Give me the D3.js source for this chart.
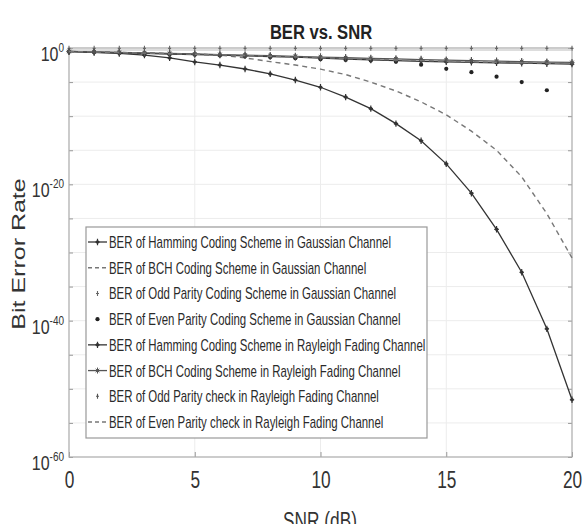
<!DOCTYPE html>
<html>
<head>
<meta charset="utf-8">
<script src="https://cdn.jsdelivr.net/npm/d3@7"></script>
<style>
  html, body { margin: 0; padding: 0; background: #fff; }
  svg { display: block; font-family: "Liberation Sans", Arial, sans-serif; }
</style>
</head>
<body>
<svg id="chart" width="583" height="524"></svg>
<script>
// ---------- data (BER given as log10 exponents) ----------
const snrValues = [0,1,2,3,4,5,6,7,8,9,10,11,12,13,14,15,16,17,18,19,20];

const hammingGaussianExp = [-0.5,-0.62,-0.8,-1.05,-1.45,-2.05,-2.5,-3.08,-3.8,-4.7,-5.76,-7.2,-8.9,-11.1,-13.6,-17.0,-21.3,-26.6,-32.9,-41.2,-51.6];
const bchGaussianExp = [-0.55,-0.6,-0.65,-0.72,-0.8,-0.9,-1.05,-1.45,-2.0,-2.5,-3.1,-3.9,-5.0,-6.3,-7.9,-9.8,-12.2,-15.0,-18.9,-24.3,-30.8];
const oddGaussianExp = [-0.05,-0.05,-0.05,-0.05,-0.05,-0.05,-0.05,-0.05,-0.05,-0.05,-0.05,-0.05,-0.05,-0.05,-0.05,-0.05,-0.05,-0.05,-0.05,-0.05,-0.05];
const evenGaussianExp = [-0.55,-0.6,-0.68,-0.78,-0.9,-1.0,-1.1,-1.2,-1.35,-1.5,-1.65,-1.75,-1.85,-2.0,-2.45,-3.05,-3.55,-4.2,-5.0,-6.2,null];
const hammingRayleighExp = [-0.54,-0.62,-0.7,-0.8,-0.88,-0.95,-1.05,-1.15,-1.25,-1.35,-1.5,-1.62,-1.75,-1.85,-1.95,-2.03,-2.1,-2.17,-2.23,-2.3,-2.36];
const bchRayleighExp = [-0.5,-0.57,-0.64,-0.72,-0.8,-0.88,-0.96,-1.05,-1.14,-1.23,-1.33,-1.43,-1.52,-1.61,-1.7,-1.78,-1.86,-1.93,-2.0,-2.06,-2.12];
const oddRayleighExp = [-0.4,-0.45,-0.5,-0.56,-0.62,-0.7,-0.78,-0.86,-0.95,-1.05,-1.15,-1.25,-1.35,-1.43,-1.51,-1.6,-1.68,-1.76,-1.84,-1.92,-2.0];
const evenRayleighExp = [-0.52,-0.58,-0.66,-0.75,-0.84,-0.92,-1.0,-1.1,-1.2,-1.3,-1.42,-1.54,-1.65,-1.75,-1.85,-1.94,-2.02,-2.1,-2.16,-2.22,-2.28];

const legendLabels = [
  "BER of Hamming Coding Scheme in Gaussian Channel",
  "BER of BCH Coding Scheme in Gaussian Channel",
  "BER of Odd Parity Coding Scheme in Gaussian Channel",
  "BER of Even Parity Coding Scheme in Gaussian Channel",
  "BER of Hamming Coding Scheme in Rayleigh Fading Channel",
  "BER of BCH Coding Scheme in Rayleigh Fading Channel",
  "BER of Odd Parity check in Rayleigh Fading Channel",
  "BER of Even Parity check in Rayleigh Fading Channel"
];
const xTickValues = [0,5,10,15,20];
const yTickExponents = [0,-20,-40,-60];
const yMinorExponents = [0,-5,-10,-15,-20,-25,-30,-35,-40,-45,-50,-55,-60];

// ---------- series styles ----------
const seriesList = [
  {exp: hammingGaussianExp, line: "solid", marker: "plus", color: "#333"},
  {exp: bchGaussianExp, line: "dash", marker: null, color: "#777"},
  {exp: oddGaussianExp, line: null, marker: "smallplus", color: "#666"},
  {exp: evenGaussianExp, line: null, marker: "dot", color: "#222"},
  {exp: hammingRayleighExp, line: "solid", marker: "plus", color: "#333"},
  {exp: bchRayleighExp, line: "solid", marker: "star", color: "#555"},
  {exp: oddRayleighExp, line: null, marker: "smallplus", color: "#555"},
  {exp: evenRayleighExp, line: "dash", marker: null, color: "#777"}
];

const svg = d3.select("#chart");
const pLeft = 69, pRight = 572, pTop = 48, pBottom = 457;
const x = d3.scaleLinear().domain([0,20]).range([pLeft,pRight]);
const y = d3.scaleLog().domain([1e-60,1]).range([pBottom,pTop]);
const SX = 0.72;

// grid
const grid = svg.append("g");
grid.selectAll("line.gx").data(xTickValues.slice(1,-1)).enter().append("line")
  .attr("x1", d=>x(d)).attr("x2", d=>x(d)).attr("y1", pTop).attr("y2", pBottom)
  .attr("stroke", "#ececec").attr("stroke-width", 1);
grid.selectAll("line.gy").data(yMinorExponents.slice(1,-1)).enter().append("line")
  .attr("x1", pLeft).attr("x2", pRight).attr("y1", d=>y(Math.pow(10,d))).attr("y2", d=>y(Math.pow(10,d)))
  .attr("stroke", "#ececec").attr("stroke-width", 1);

// axes
const xAxis = svg.append("g").attr("transform", `translate(0,${pBottom})`)
  .call(d3.axisBottom(x).tickValues(xTickValues).tickSizeInner(-5).tickSizeOuter(0).tickPadding(14));
xAxis.select(".domain").remove();
xAxis.selectAll(".tick line").attr("stroke", "#999");
xAxis.selectAll(".tick text").attr("font-size", 24).attr("fill", "#333")
  .attr("transform", `scale(${SX},1)`);

const yAxis = svg.append("g").attr("transform", `translate(${pLeft},0)`)
  .call(d3.axisLeft(y).tickValues(yMinorExponents.map(e=>Math.pow(10,e))).tickSizeInner(-4).tickSizeOuter(0).tickFormat(""));
yAxis.select(".domain").remove();
yAxis.selectAll(".tick line").attr("stroke", "#999");
const yAxisR = svg.append("g").attr("transform", `translate(${pRight},0)`)
  .call(d3.axisRight(y).tickValues(yMinorExponents.map(e=>Math.pow(10,e))).tickSizeInner(-4).tickSizeOuter(0).tickFormat(""));
yAxisR.select(".domain").remove();
yAxisR.selectAll(".tick line").attr("stroke", "#999");

const yLab = svg.append("g");
yTickExponents.forEach(e => {
  const t = yLab.append("text")
    .attr("transform", `translate(${pLeft-5},${y(Math.pow(10,e))+13}) scale(0.8,1)`)
    .attr("text-anchor", "end").attr("fill", "#333").attr("font-size", 20);
  t.append("tspan").text("10");
  t.append("tspan").attr("dy", -9).attr("font-size", 12.5).text(String(e));
});

// plot box
svg.append("rect").attr("x", pLeft).attr("y", pTop).attr("width", pRight-pLeft).attr("height", pBottom-pTop)
  .attr("fill", "none").attr("stroke", "#aaa").attr("stroke-width", 1.2);
svg.append("line").attr("x1", pLeft).attr("x2", pRight).attr("y1", pTop+2).attr("y2", pTop+2)
  .attr("stroke", "#ddd").attr("stroke-width", 2);

// markers
function drawMarker(g, type, cx, cy, color) {
  if (type === "plus") {
    g.append("path").attr("d", `M${cx-2.2},${cy}H${cx+2.2}M${cx},${cy-3.2}V${cy+3.2}`)
      .attr("stroke", color).attr("stroke-width", 1.2).attr("fill", "none");
    g.append("circle").attr("cx", cx).attr("cy", cy).attr("r", 1.8).attr("fill", color);
  } else if (type === "smallplus") {
    g.append("path").attr("d", `M${cx-1.5},${cy}H${cx+1.5}M${cx},${cy-2.5}V${cy+2.5}`)
      .attr("stroke", color).attr("stroke-width", 1.1).attr("fill", "none");
  } else if (type === "dot") {
    g.append("circle").attr("cx", cx).attr("cy", cy).attr("r", 2.1).attr("fill", color);
  } else if (type === "star") {
    g.append("path").attr("d", `M${cx-2.5},${cy}H${cx+2.5}M${cx},${cy-3}V${cy+3}M${cx-1.8},${cy-1.8}L${cx+1.8},${cy+1.8}M${cx-1.8},${cy+1.8}L${cx+1.8},${cy-1.8}`)
      .attr("stroke", color).attr("stroke-width", 1).attr("fill", "none");
  }
}

const plot = svg.append("g");
const lineGen = d3.line().defined(d => d.v !== null).x(d => x(d.s)).y(d => y(Math.pow(10, d.v)));
seriesList.forEach(sr => {
  const pts = snrValues.map((s,i) => ({s, v: sr.exp[i]}));
  if (sr.line) {
    plot.append("path").datum(pts).attr("d", lineGen)
      .attr("fill", "none").attr("stroke", sr.color)
      .attr("stroke-width", sr.line === "dash" ? 1.4 : 1.3)
      .attr("stroke-dasharray", sr.line === "dash" ? "5,4" : null);
  }
  if (sr.marker) {
    pts.filter(p => p.v !== null).forEach(p => drawMarker(plot, sr.marker, x(p.s), y(Math.pow(10,p.v)), sr.color));
  }
});

// legend
const lg = svg.append("g");
const lgX = 86, lgY = 227, lgW = 341, lgH = 211;
lg.append("rect").attr("x", lgX).attr("y", lgY).attr("width", lgW).attr("height", lgH)
  .attr("fill", "#fff").attr("stroke", "#999").attr("stroke-width", 1.2);
const rowY = d3.scaleLinear().domain([0,7]).range([242,422]);
legendLabels.forEach((lab,i) => {
  const sr = seriesList[i];
  const cy = rowY(i);
  if (sr.line) {
    lg.append("line").attr("x1", 88).attr("x2", 107).attr("y1", cy).attr("y2", cy)
      .attr("stroke", sr.color).attr("stroke-width", sr.line === "dash" ? 1.4 : 1.3)
      .attr("stroke-dasharray", sr.line === "dash" ? "4,3" : null);
  }
  if (sr.marker) drawMarker(lg, sr.marker, 97.5, cy, sr.color);
  lg.append("text").attr("transform", `translate(109,${cy+6}) scale(0.715,1)`)
    .attr("font-size", 16).attr("fill", "#2a2a2a").text(lab);
});

// title and axis labels
svg.append("text").attr("transform", `translate(321,39) scale(0.79,1)`)
  .attr("text-anchor", "middle").attr("font-size", 21).attr("font-weight", "bold").attr("fill", "#222")
  .text("BER vs. SNR");
svg.append("text").attr("transform", `translate(320,529) scale(${SX},1)`)
  .attr("text-anchor", "middle").attr("font-size", 24).attr("fill", "#333").text("SNR (dB)");
svg.append("text").attr("transform", `translate(25,254) scale(${SX},1) rotate(-90)`)
  .attr("text-anchor", "middle").attr("font-size", 25).attr("fill", "#333").text("Bit Error Rate");
</script>
</body>
</html>
